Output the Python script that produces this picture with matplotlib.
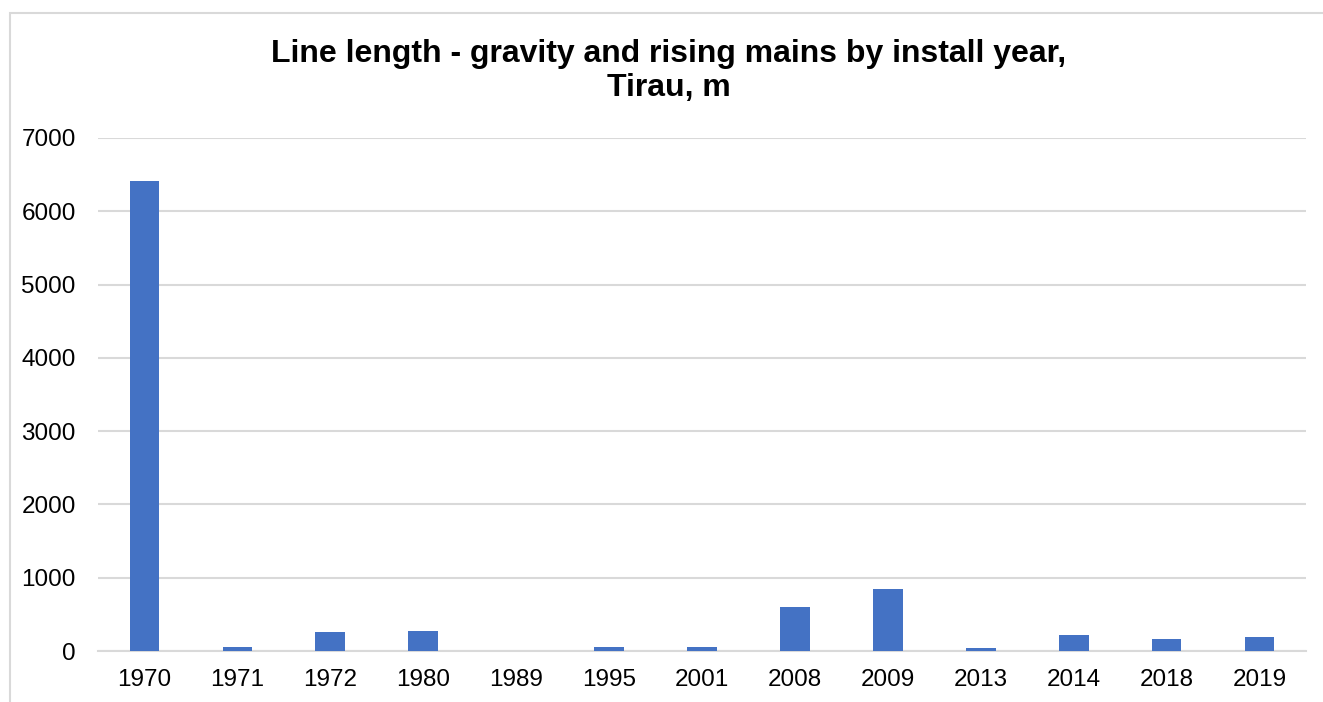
import matplotlib.pyplot as plt
from matplotlib.patches import Rectangle

years = ["1970", "1971", "1972", "1980", "1989", "1995", "2001",
         "2008", "2009", "2013", "2014", "2018", "2019"]
length_m = [6410, 55, 260, 275, 0, 55, 55, 600, 845, 40, 220, 165, 190]
yticks = [0, 1000, 2000, 3000, 4000, 5000, 6000, 7000]

plt.rcParams['font.family'] = ['Liberation Sans', 'DejaVu Sans']

fig = plt.figure(figsize=(13.23, 7.02), dpi=100)
ax = fig.add_axes([98 / 1323, 51 / 702, 1208 / 1323, 513 / 702])

x = range(len(years))
ax.bar(x, length_m, width=0.32, color="#4472C4", zorder=3)

ax.set_xlim(-0.5, len(years) - 0.5)
ax.set_ylim(0, 7000)
ax.set_yticks(yticks)
ax.set_xticks(list(x))
ax.set_xticklabels(years)
ax.tick_params(axis='both', length=0, labelsize=17.5, colors="#000000")
ax.tick_params(axis='x', pad=13)
ax.tick_params(axis='y', pad=16)

ax.grid(axis='y', color="#d9d9d9", linewidth=1.5, zorder=0)
for s in ["top", "right", "left"]:
    ax.spines[s].set_visible(False)
ax.spines["bottom"].set_color("#d9d9d9")
ax.spines["bottom"].set_linewidth(1.5)

fig.text(0.5057, 0.899, "Line length - gravity and rising mains by install year,\nTirau, m",
         ha='center', va='center', fontsize=23, fontweight='bold', linespacing=1.19)

# outer chart border
fig.patches.append(Rectangle((10 / 1323, -0.01), 1.0, (702 - 13) / 702 + 0.01,
                             transform=fig.transFigure, fill=False,
                             edgecolor="#d9d9d9", linewidth=1.5))

fig.savefig("out.png", dpi=100)
